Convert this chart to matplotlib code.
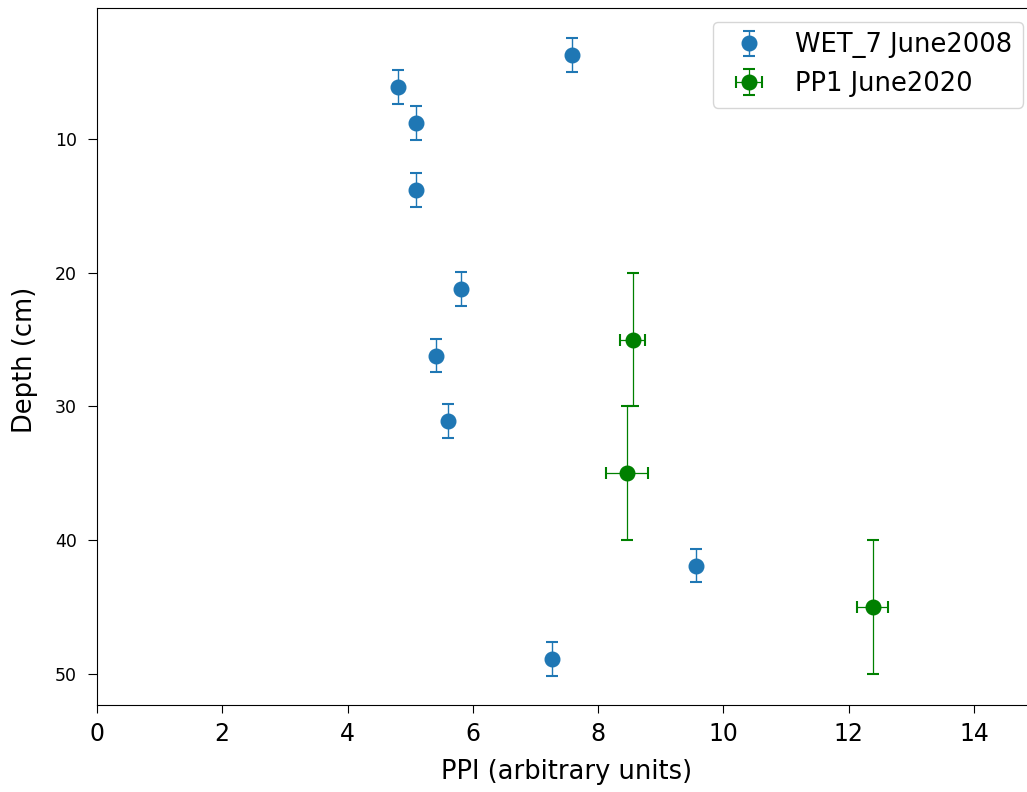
import matplotlib
matplotlib.use('Agg')
import matplotlib.pyplot as plt

# WET_7 June2008 (blue)
wet_ppi = [7.58, 4.80, 5.10, 5.10, 5.81, 5.41, 5.60, 9.57, 7.27]
wet_depth = [3.7, 6.1, 8.8, 13.8, 21.2, 26.2, 31.1, 41.9, 48.9]
wet_depth_err = [1.25, 1.25, 1.25, 1.25, 1.25, 1.25, 1.25, 1.25, 1.25]

# PP1 June2020 (green)
pp1_ppi = [8.55, 8.46, 12.38]
pp1_depth = [25, 35, 45]
pp1_depth_err = [5, 5, 5]
pp1_ppi_err = [0.2, 0.34, 0.25]

fig = plt.figure(figsize=(10.27, 7.92), dpi=100)
ax = fig.add_axes([0.0944, 0.1098, 0.915, 0.8801])

ax.errorbar(wet_ppi, wet_depth, yerr=wet_depth_err, fmt='o', color='tab:blue',
            ms=10.5, capsize=4, elinewidth=1.0, capthick=1.5, label='WET_7 June2008')
ax.errorbar(pp1_ppi, pp1_depth, yerr=pp1_depth_err, xerr=pp1_ppi_err, fmt='o',
            color='green', ms=10.5, capsize=4, elinewidth=0.9, capthick=1.5,
            label='PP1 June2020')

ax.set_xlim(0, 15)
ax.set_ylim(52.33, 0.2)
ax.set_xticks([0, 2, 4, 6, 8, 10, 12, 14])
ax.set_yticks([10, 20, 30, 40, 50])
ax.tick_params(axis='x', labelsize=17, length=6, pad=6)
ax.tick_params(axis='y', labelsize=12.5, length=6.5, pad=8)
ax.set_xlabel('PPI (arbitrary units)', fontsize=18.5)
ax.set_ylabel('Depth (cm)', fontsize=18.5)
ax.xaxis.set_label_coords(0.5, -0.077)
ax.yaxis.set_label_coords(-0.063, 0.495)

ax.legend(loc='upper right', bbox_to_anchor=(0.996, 0.972),
          bbox_transform=fig.transFigure, borderaxespad=0, fontsize=18.5)

fig.savefig('out.png', dpi=100)
